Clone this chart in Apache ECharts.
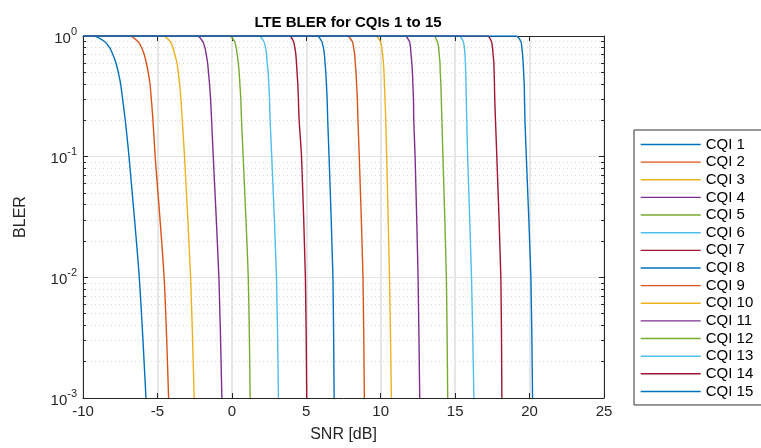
<!DOCTYPE html>
<html>
<head>
<meta charset="utf-8">
<script src="https://cdn.jsdelivr.net/npm/echarts@6/dist/echarts.min.js"></script>
<style>
  html, body { margin: 0; padding: 0; background: #fff; }
  #chart-container { width: 761px; height: 448px; }
</style>
</head>
<body>
<div id="chart-container"></div>
<script>
var dom = document.getElementById("chart-container");
var myChart = echarts.init(dom, null, { renderer: "canvas" });

var blerLevels = [1, 1, 0.9, 0.8, 0.7, 0.6, 0.5, 0.4, 0.3, 0.2, 0.1, 0.01, 0.001];

// SNR [dB] per CQI at those levels
var snrCqi1  = [-10, -9.33, -8.55, -8.21, -7.99, -7.79, -7.63, -7.47, -7.34, -7.16, -6.91, -6.22, -5.77];
var snrCqi2  = [-10, -6.87, -6.31, -6.06, -5.88, -5.75, -5.62, -5.50, -5.41, -5.30, -5.15, -4.55, -4.25];
var snrCqi3  = [-10, -4.63, -4.14, -3.96, -3.83, -3.69, -3.60, -3.51, -3.42, -3.33, -3.18, -2.77, -2.53];
var snrCqi4  = [-10, -2.33, -1.95, -1.81, -1.72, -1.63, -1.57, -1.50, -1.43, -1.36, -1.25, -0.87, -0.67];
var snrCqi5  = [-10, -0.16, 0.18, 0.29, 0.36, 0.43, 0.49, 0.54, 0.60, 0.65, 0.76, 1.10, 1.23];
var snrCqi6  = [-10, 1.81, 2.15, 2.26, 2.33, 2.37, 2.44, 2.48, 2.53, 2.57, 2.68, 3.00, 3.13];
var snrCqi7  = [-10, 3.87, 4.14, 4.23, 4.30, 4.34, 4.38, 4.43, 4.47, 4.52, 4.68, 4.94, 5.03];
var snrCqi8  = [-10, 5.73, 6.04, 6.15, 6.22, 6.26, 6.31, 6.35, 6.40, 6.44, 6.53, 6.79, 6.87];
var snrCqi9  = [-10, 7.73, 8.09, 8.18, 8.25, 8.29, 8.34, 8.38, 8.43, 8.47, 8.56, 8.81, 8.90];
var snrCqi10 = [-10, 9.64, 9.98, 10.07, 10.13, 10.18, 10.22, 10.25, 10.29, 10.34, 10.40, 10.59, 10.72];
var snrCqi11 = [-10, 11.62, 11.93, 12.00, 12.04, 12.09, 12.13, 12.16, 12.20, 12.22, 12.31, 12.51, 12.62];
var snrCqi12 = [-10, 13.57, 13.80, 13.89, 13.93, 13.98, 14.00, 14.04, 14.07, 14.11, 14.18, 14.41, 14.50];
var snrCqi13 = [-10, 15.26, 15.55, 15.62, 15.66, 15.69, 15.71, 15.73, 15.75, 15.78, 15.84, 16.10, 16.26];
var snrCqi14 = [-10, 17.17, 17.44, 17.51, 17.55, 17.60, 17.62, 17.64, 17.66, 17.71, 17.80, 18.07, 18.14];
var snrCqi15 = [-10, 19.08, 19.42, 19.48, 19.53, 19.57, 19.60, 19.64, 19.66, 19.69, 19.78, 20.09, 20.20];

var seriesNames = ["CQI 1", "CQI 2", "CQI 3", "CQI 4", "CQI 5", "CQI 6", "CQI 7", "CQI 8",
  "CQI 9", "CQI 10", "CQI 11", "CQI 12", "CQI 13", "CQI 14", "CQI 15"];
var snrTable = [snrCqi1, snrCqi2, snrCqi3, snrCqi4, snrCqi5, snrCqi6, snrCqi7, snrCqi8,
  snrCqi9, snrCqi10, snrCqi11, snrCqi12, snrCqi13, snrCqi14, snrCqi15];

var xTicks = [-10, -5, 0, 5, 10, 15, 20, 25];

// matlab default line colours
var colorList = ['#0072BD', '#D95319', '#EDB120', '#7E2F8E', '#77AC30', '#4DBEEE', '#A2142F'];

var axisColor = '#262626';
var fontName = 'Liberation Sans, Arial, Helvetica, sans-serif';

var series = seriesNames.map(function (name, i) {
  return {
    name: name,
    type: 'line',
    xAxisIndex: 0,
    yAxisIndex: 0,
    showSymbol: false,
    symbol: 'none',
    smooth: 0.25,
    clip: true,
    lineStyle: { width: 1.4, color: colorList[i % 7] },
    itemStyle: { color: colorList[i % 7] },
    data: snrTable[i].map(function (x, k) { return [x, blerLevels[k]]; })
  };
});

function logLabel(value) {
  var e = Math.round(Math.log(value) / Math.LN10);
  return '{b|10}{s|' + e + '}';
}

var yBase = {
  type: 'log',
  logBase: 10,
  min: 0.001,
  max: 1,
  axisLine: { show: true, onZero: false, lineStyle: { color: axisColor, width: 1 } },
  axisTick: { show: true, inside: true, length: 5, lineStyle: { color: axisColor } },
  minorTick: { show: true, splitNumber: 9, length: 3, lineStyle: { color: axisColor } }
};

option = {
  animation: false,
  textStyle: { fontFamily: fontName },
  title: {
    text: 'LTE BLER for CQIs 1 to 15',
    left: 343,
    textAlign: 'center',
    top: 10,
    textStyle: { fontFamily: fontName, fontWeight: 'bold', fontSize: 15, color: '#000' }
  },
  legend: {
    orient: 'vertical',
    left: 634,
    top: 130,
    padding: [7, 30, 6, 6],
    itemWidth: 60,
    itemHeight: 14,
    itemGap: 2.64,
    borderColor: '#333',
    borderWidth: 1,
    borderRadius: 0,
    backgroundColor: '#fff',
    itemStyle: { opacity: 0 },
    lineStyle: { width: 1.4 },
    data: seriesNames,
    textStyle: { fontFamily: fontName, fontSize: 15, lineHeight: 14, color: '#000' }
  },
  grid: {
    left: 83,
    right: 157,
    top: 36,
    bottom: 46,
    containLabel: false
  },
  xAxis: [
    {
      type: 'value',
      min: -10,
      max: 25,
      interval: 5,
      name: 'SNR [dB]',
      nameLocation: 'middle',
      nameGap: 29,
      nameTextStyle: { fontFamily: fontName, fontSize: 16, color: axisColor },
      axisLine: { show: true, onZero: false, lineStyle: { color: axisColor } },
      axisTick: { show: true, inside: true, length: 5, lineStyle: { color: axisColor } },
      axisLabel: {
        fontFamily: fontName, fontSize: 15, color: axisColor, margin: 6,
        formatter: function (v) { return xTicks.indexOf(v) >= 0 ? String(v) : ''; }
      },
      splitLine: { show: true, lineStyle: { color: '#e6e6e6', width: 2 } }
    },
    {
      type: 'value',
      position: 'top',
      min: -10,
      max: 25,
      interval: 5,
      axisLine: { show: true, onZero: false, lineStyle: { color: axisColor } },
      axisTick: { show: true, inside: true, length: 5, lineStyle: { color: axisColor } },
      axisLabel: { show: false },
      splitLine: { show: false }
    }
  ],
  yAxis: [
    Object.assign({}, yBase, {
      name: 'BLER',
      nameLocation: 'middle',
      nameGap: 54,
      nameTextStyle: { fontFamily: fontName, fontSize: 16, color: axisColor },
      axisLabel: {
        margin: 6,
        formatter: logLabel,
        rich: {
          b: { fontFamily: fontName, fontSize: 15, color: axisColor, lineHeight: 20, verticalAlign: 'bottom' },
          s: { fontFamily: fontName, fontSize: 11, color: axisColor, lineHeight: 20, verticalAlign: 'top' }
        }
      },
      splitLine: { show: true, lineStyle: { color: '#e3e3e3', width: 1 } },
      minorSplitLine: { show: true, lineStyle: { color: '#d8d8d8', width: 1, type: [1, 3] } }
    }),
    Object.assign({}, yBase, {
      position: 'right',
      axisLabel: { show: false },
      splitLine: { show: false },
      minorSplitLine: { show: false }
    })
  ],
  series: series
};

if (option && typeof option === "object") {
  myChart.setOption(option);
}

window.addEventListener("resize", myChart.resize);
</script>
</body>
</html>
